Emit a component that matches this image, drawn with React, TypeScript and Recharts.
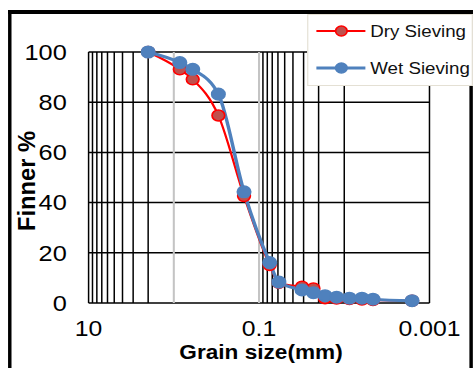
import React from "react";
import {
  LineChart, Line, XAxis, YAxis, CartesianGrid, ReferenceLine,
} from "recharts";

// grain size (mm) and percent finer
const grainSize = [2, 0.85, 0.6, 0.3, 0.15, 0.075, 0.0585, 0.0313, 0.023, 0.0168, 0.0123, 0.0087, 0.0062, 0.0046, 0.0016];
const drySieving = [100, 93.1, 89.1, 74.7, 42.6, 15.1, 8.0, 6.5, 5.8, 1.9, 1.8, 1.6, 1.4, 1.2, 0.9];
const wetSieving = [100, 95.8, 93.1, 83.2, 44.3, 16.1, 8.3, 5.2, 4.1, 2.9, 2.3, 1.9, 1.9, 1.5, 0.9];

const xTicks = [10, 0.1, 0.001];
const yTicks = [0, 20, 40, 60, 80, 100];
const gridDark = [10, 9, 8, 7, 6, 5, 4, 3, 2, 0.09, 0.08, 0.07, 0.06, 0.05, 0.04, 0.03, 0.02, 0.01, 0.001];
const gridLight = [1, 0.1];

const series = [
  { key: "dry", name: "Dry Sieving", line: "#ff0000", width: 2, fill: "#c0504d", r: 5.5 },
  { key: "wet", name: "Wet Sieving", line: "#4f81bd", width: 3, fill: "#4f81bd", r: 5.8 },
];

const data = grainSize.map((s, i) => ({ size: s, dry: drySieving[i], wet: wetSieving[i] }));

const FONT = '"Liberation Sans", Arial, sans-serif';
const W = 412;
const H = 368;

function LegendBox() {
  return (
    <div style={{
      position: "absolute", left: 266.8, top: 14, width: 144, height: 72, boxSizing: "border-box",
      border: "1.5px solid #e4e0d4", background: "#fff", fontFamily: FONT, fontSize: 16.3, color: "#111",
    }}>
      {series.map((s, i) => (
        <div key={s.key} style={{ position: "absolute", left: 0, top: 4 + i * 37, height: 24, width: 144 }}>
          <svg width={46} height={24} style={{ position: "absolute", left: 6, top: 0 }}>
            <line x1={1} y1={12} x2={43.6} y2={12} stroke={s.line} strokeWidth={s.width} />
            <circle cx={22.7} cy={12} r={5} fill={s.fill} stroke={s.line} strokeWidth={1.5} />
          </svg>
          <span style={{ position: "absolute", left: 54, top: 2, whiteSpace: "nowrap", lineHeight: "20px" }}>{s.name}</span>
        </div>
      ))}
    </div>
  );
}

export default function App() {
  return (
    <div style={{
      position: "absolute", left: 0, top: 0, width: W, height: H, overflow: "hidden",
      transform: `scaleX(${474 / W})`, transformOrigin: "0 0", background: "#fff",
    }}>
      <div style={{
        position: "absolute", left: 7, top: 10, width: 404, height: 380, boxSizing: "border-box",
        borderTop: "4px solid #000", borderLeft: "3.5px solid #000", borderRight: "3.5px solid #000",
      }} />
      <LineChart width={W} height={H} data={data} margin={{ top: 52, right: 38.7, bottom: 35, left: 0 }}
        style={{ position: "absolute", left: 0, top: 0 }}>
        <CartesianGrid vertical={false} stroke="#000" strokeWidth={1.5} />
        {gridLight.map((v) => (
          <ReferenceLine key={"l" + v} x={v} stroke="#c4c4c4" strokeWidth={1.8} />
        ))}
        {gridDark.map((v) => (
          <ReferenceLine key={"d" + v} x={v} stroke="#000" strokeWidth={1.3} />
        ))}
        <XAxis dataKey="size" type="number" scale="log" domain={[0.001, 10]} reversed allowDataOverflow
          ticks={xTicks} interval={0} axisLine={false} tickLine={false} tickSize={0} tickMargin={18} height={30}
          tick={{ fill: "#000", fontSize: 21.5, fontFamily: FONT }}
          label={() => (
            <text x={226.9} y={359} textAnchor="middle" fontFamily={FONT} fontWeight="bold" fontSize={21}
              textLength={142} lengthAdjust="spacingAndGlyphs" fill="#000">Grain size(mm)</text>
          )} />
        <YAxis type="number" domain={[0, 100]} ticks={yTicks} width={77} axisLine={false} tickLine={false}
          tickSize={0} tickMargin={19} tick={{ fill: "#000", fontSize: 22, fontFamily: FONT }}
          label={() => (
            <text x={30.4} y={181} textAnchor="middle" fontFamily={FONT} fontWeight="bold" fontSize={21}
              textLength={100} lengthAdjust="spacingAndGlyphs" fill="#000"
              transform="rotate(-90, 30.4, 181)">Finner %</text>
          )} />
        {series.map((s) => (
          <Line key={s.key} dataKey={s.key} name={s.name} type="monotone" stroke={s.line} strokeWidth={s.width}
            dot={{ r: s.r, fill: s.fill, stroke: s.line, strokeWidth: 1.5 }} activeDot={false}
            isAnimationActive={false} />
        ))}
      </LineChart>
      <LegendBox />
    </div>
  );
}
